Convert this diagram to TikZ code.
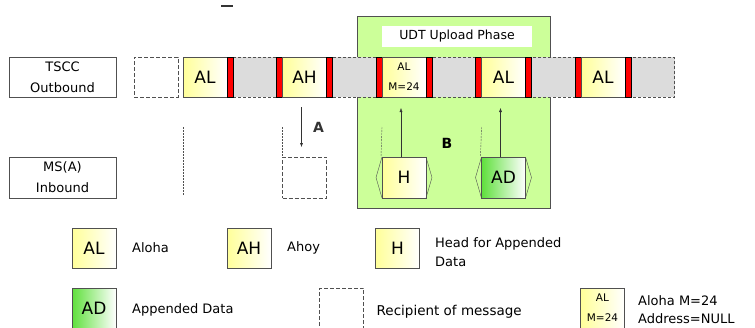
\documentclass[tikz,border=0pt]{standalone}
\usepackage{fontspec}
\setmainfont{DejaVu Sans}
\usetikzlibrary{positioning, arrows.meta, calc, backgrounds}
\definecolor{pale}{HTML}{FFFF99}
\definecolor{leaf}{HTML}{5FE03C}
\definecolor{phasebg}{HTML}{CCFF99}
\definecolor{slot}{HTML}{DCDCDC}
\definecolor{edge}{HTML}{505050}

\tikzset{
  msg/.style={rectangle, draw=edge, left color=pale, right color=white,
              minimum width=44pt, minimum height=40pt, inner sep=0pt, outer sep=0pt,
              font=\fontsize{17}{19}\selectfont},
  data/.style={msg, left color=leaf},
  small/.style={align=center, font=\fontsize{10.5}{20}\selectfont},
  bar/.style={rectangle, draw=black, fill=red, minimum width=6pt,
              minimum height=40pt, inner sep=0pt, outer sep=0pt},
  rcpt/.style={rectangle, draw=edge, dash pattern=on 4pt off 2pt,
               minimum width=44pt, minimum height=41pt, inner sep=0pt, outer sep=0pt},
  lane/.style={rectangle, draw=edge, minimum width=107pt, minimum height=40pt,
               align=center, inner sep=0pt, font=\fontsize{13}{21}\selectfont},
  caption/.style={anchor=west, align=left, inner sep=0pt,
                  font=\fontsize{13}{19}\selectfont},
  guide/.style={edge, dash pattern=on 2pt off 1pt},
  bracket/.style={edge, thin},
  link/.style={-{Latex[length=4pt, width=3pt]}, black!80},
}

\begin{document}
\begin{tikzpicture}[x=1pt, y=-1pt]
  \useasboundingbox (0,0) rectangle (755,327);

  % lanes
  \node[lane] (tscc) at (62.5,77) {TSCC\\Outbound};
  \node[lane, minimum height=41pt] (msa) at (62.5,177.5) {MS(A)\\Inbound};
  \draw[black!80, line width=1.5pt] (221,6) -- (233,6);

  % outbound slots
  \node[msg] (al1) at (205,77) {AL};
  \node[bar, right=0pt of al1] (r1) {};
  \node[bar, right=43.5pt of r1] (r2) {};
  \node[msg, right=0pt of r2] (ah) {AH};
  \node[bar, right=0pt of ah] (r3) {};
  \node[bar, right=43.5pt of r3] (r4) {};
  \node[msg, small, right=0pt of r4] (alm) {AL\\M=24};
  \node[bar, right=0pt of alm] (r5) {};
  \node[bar, right=43.5pt of r5] (r6) {};
  \node[msg, right=0pt of r6] (al3) {AL};
  \node[bar, right=0pt of al3] (r7) {};
  \node[bar, right=43.5pt of r7] (r8) {};
  \node[msg, right=0pt of r8] (al4) {AL};
  \node[bar, right=0pt of al4] (r9) {};
  \node[rcpt, minimum height=40pt, left=5pt of al1] (idle) {};

  % upload phase
  \node[fill=white, minimum width=150pt, minimum height=21pt, inner sep=0pt,
        font=\fontsize{12.5}{14}\selectfont] (title) at (457,36.5) {UDT Upload Phase};
  \begin{scope}[on background layer]
    \node[draw=edge, fill=phasebg, minimum width=193pt, minimum height=192pt] (phase) at (453.5,112) {};
    \draw[edge, fill=slot, dash pattern=on 3pt off 2pt]
      (al1.north west) rectangle ([xshift=43.5pt]r9.south east);
  \end{scope}

  % inbound
  \node[rcpt, below=60pt of ah] (rcp) {};
  \node[msg, below=60pt of alm, minimum height=41pt] (hd) {H};
  \node[data, below=60pt of al3, minimum height=41pt] (ad) {AD};
  \foreach \n in {hd, ad} {
    \draw[bracket] (\n.north west) -- ([xshift=-6pt]\n.west) -- (\n.south west);
    \draw[bracket] (\n.north east) -- ([xshift=6pt]\n.east) -- (\n.south east);
  }

  \draw[guide] ([yshift=-30pt]al1.south west) -- ([yshift=-98pt]al1.south west);
  \draw[guide] ([yshift=-30pt]ah.south west) -- (rcp.north west);
  \draw[guide] ([yshift=-30pt]alm.south west) -- ([xshift=-1pt]hd.north west);
  \draw[guide] ([yshift=-30pt]al3.south west) -- ([xshift=-1pt]ad.north west);

  \draw[link] ([xshift=-3pt, yshift=-10pt]ah.south) -- ([xshift=-3pt, yshift=10pt]rcp.north)
    node[midway, right=8pt, font=\fontsize{14}{16}\selectfont\bfseries] (lblA) {A};
  \draw[link] ([xshift=-3pt]hd.north) -- ([xshift=-3pt, yshift=-11pt]alm.south);
  \draw[link] ([xshift=-3pt]ad.north) -- ([xshift=-3pt, yshift=-11pt]al3.south);
  \node[font=\fontsize{14}{16}\selectfont\bfseries] (lblB) at (447,143) {B};

  % legend
  \node[msg] (kal) at (94,248) {AL};
  \node[caption, right=16pt of kal] (kalt) {Aloha};
  \node[msg] (kah) at (249,248) {AH};
  \node[caption, right=16pt of kah] (kaht) {Ahoy};
  \node[msg] (kh) at (397.5,248) {H};
  \node[caption] (kht) at (435,252) {Head for Appended\\Data};
  \node[data] (kad) at (94,308) {AD};
  \node[caption, right=16pt of kad, yshift=-2pt] (kadt) {Appended Data};
  \node[rcpt, minimum height=40pt] (krc) at (341.5,308) {};
  \node[caption, right=13pt of krc, yshift=-4pt, font=\fontsize{13.5}{19}\selectfont] (krct) {Recipient of message};
  \node[msg, small] (kalm) at (602.5,308) {AL\\M=24};
  \node[caption, font=\fontsize{13}{18}\selectfont] (kalmt) at (638,309.5) {Aloha M=24\\Address=NULL};
\end{tikzpicture}
\end{document}
